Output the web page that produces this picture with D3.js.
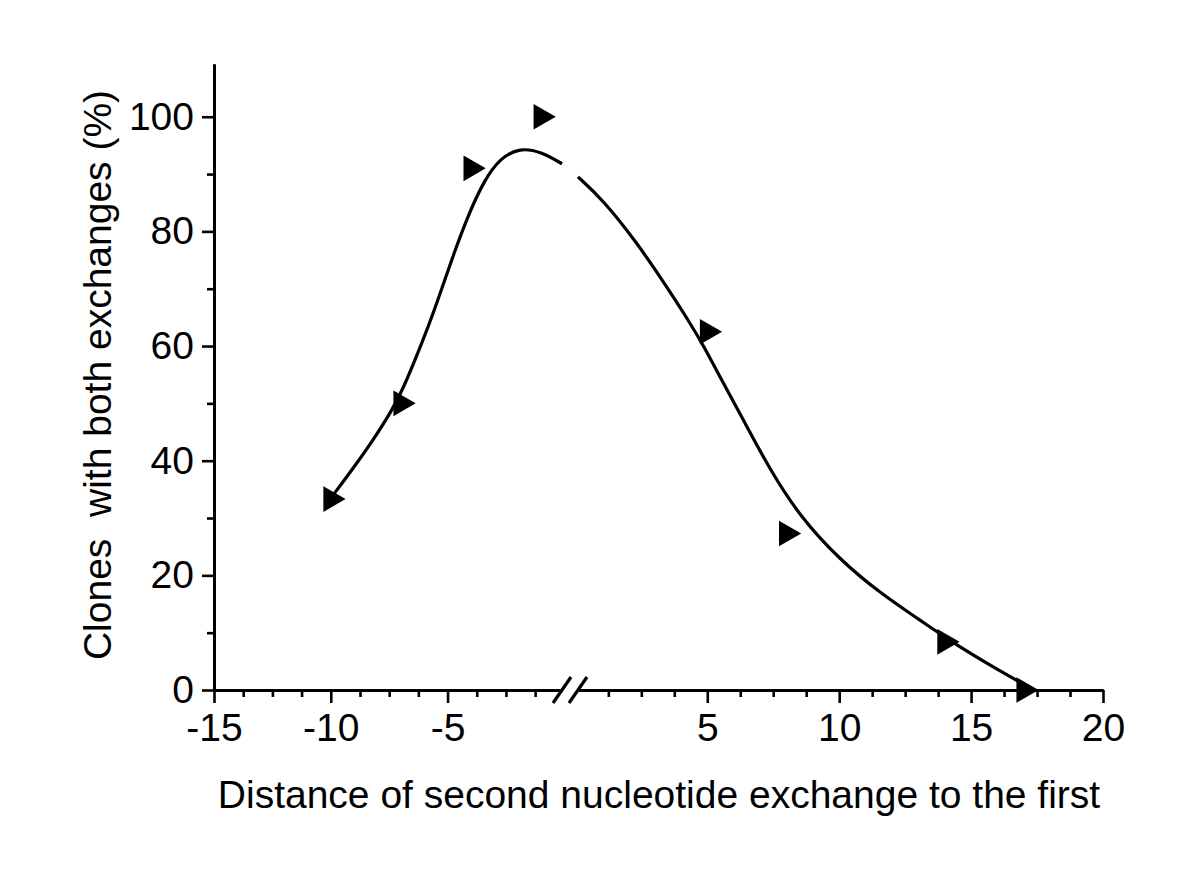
<!DOCTYPE html>
<html>
<head>
<meta charset="utf-8">
<script src="https://cdn.jsdelivr.net/npm/d3@7"></script>
<style>
  body { margin: 0; background: #fff; }
  text { font-family: "Liberation Sans", Arial, sans-serif; fill: #000; }
</style>
</head>
<body>
<svg id="chart" width="1200" height="883"></svg>
<script>
// measured points
const pointX = [-10, -7, -4, -1, 5, 8, 14, 17];
const pointY = [33.3, 50, 91, 100, 62.5, 27.3, 8.4, 0];

// fitted curve (left and right of the axis break)
const fitLeftX = [-9.9, -9.0, -8.15, -7.35, -6.9, -6.3, -5.75, -5.3, -4.75, -4.15, -3.45, -2.75, -1.9, -1.0, -0.1];
const fitLeftY = [34.0, 38.9, 43.8, 49.0, 52.6, 58.5, 64.2, 69.4, 75.9, 82.5, 88.8, 92.8, 94.6, 93.9, 91.8];
const fitRightX = [0.1, 1.05, 2.34, 3.47, 4.35, 4.84, 5.6, 6.51, 7.38, 8.52, 10.03, 11.55, 13.06, 14.32, 15.83, 17.3];
const fitRightY = [89.5, 85.5, 78.0, 70.3, 64.0, 60.2, 53.6, 45.9, 38.4, 30.2, 22.7, 16.9, 12.2, 8.2, 4.0, 0.2];

// axis break and ticks
const breakLo = -0.1, breakHi = 0.1;
const xMajorLeft = [-15, -10, -5];
const xMinorLeft = [-13.75, -12.5, -11.25, -8.75, -7.5, -6.25, -3.75, -2.5, -1.25];
const xMajorRight = [5, 10, 15, 20];
const xMinorRight = [1.25, 2.5, 3.75, 6.25, 7.5, 8.75, 11.25, 12.5, 13.75, 16.25, 17.5, 18.75];
const yMajor = [0, 20, 40, 60, 80, 100];
const yMinor = [10, 30, 50, 70, 90];

const xTitle = 'Distance of second nucleotide exchange to the first';
const yTitle = 'Clones\u00a0 with both exchanges (%)';

const svg = d3.select('#chart');
const plotLeft = 214, plotRight = 1103, plotTop = 64, plotBottom = 690, gap = 16;
const fontSize = 39;

const xLeft = d3.scaleLinear().domain([-15, breakLo]).range([plotLeft, 562]);
const xRight = d3.scaleLinear().domain([breakHi, 20]).range([562 + gap, plotRight]);
const xPos = v => (v <= breakLo ? xLeft(v) : xRight(v));
const y = d3.scaleLinear().domain([0, 109.2]).range([plotBottom, plotTop]);

function styleAxis(g) {
  g.select('.domain').attr('stroke', '#000').attr('stroke-width', 3);
  g.selectAll('.tick line').attr('stroke', '#000').attr('stroke-width', 2.6);
  g.selectAll('.tick text').style('font-size', fontSize + 'px').attr('fill', '#000');
}

// x axis, two pieces
[[xLeft, xMajorLeft, xMinorLeft], [xRight, xMajorRight, xMinorRight]].forEach(([sc, major, minor]) => {
  svg.append('g')
    .attr('transform', `translate(0,${plotBottom})`)
    .call(d3.axisBottom(sc).tickValues(minor).tickSize(7).tickSizeOuter(0).tickFormat(''))
    .call(styleAxis);
  svg.append('g')
    .attr('transform', `translate(0,${plotBottom})`)
    .call(d3.axisBottom(sc).tickValues(major).tickSize(13).tickSizeOuter(0).tickPadding(10)
      .tickFormat(d => String(d)))
    .call(styleAxis);
});

// break marks
[562, 562 + gap].forEach(cx => {
  svg.append('line')
    .attr('x1', cx - 9).attr('y1', plotBottom + 13)
    .attr('x2', cx + 9).attr('y2', plotBottom - 13)
    .attr('stroke', '#000').attr('stroke-width', 3.2);
});

// y axis
svg.append('g')
  .attr('transform', `translate(${plotLeft},0)`)
  .call(d3.axisLeft(y).tickValues(yMinor).tickSize(7).tickSizeOuter(0).tickFormat(''))
  .call(styleAxis);
svg.append('g')
  .attr('transform', `translate(${plotLeft},0)`)
  .call(d3.axisLeft(y).tickValues(yMajor).tickSize(12).tickSizeOuter(0).tickPadding(8))
  .call(styleAxis);

// fitted curve
const line = d3.line()
  .x(d => xPos(d[0]))
  .y(d => y(d[1]))
  .curve(d3.curveBasis);

[[fitLeftX, fitLeftY], [fitRightX, fitRightY]].forEach(([xs, ys]) => {
  svg.append('path')
    .datum(xs.map((v, i) => [v, ys[i]]))
    .attr('d', line)
    .attr('fill', 'none')
    .attr('stroke', '#000')
    .attr('stroke-width', 3.2);
});

// markers: right-pointing triangles
const tri = d3.symbol().type(d3.symbolTriangle).size(285);
svg.append('g').selectAll('path')
  .data(pointX.map((v, i) => [v, pointY[i]]))
  .join('path')
  .attr('d', tri)
  .attr('transform', d => `translate(${xPos(d[0])},${y(d[1])}) rotate(90)`)
  .attr('fill', '#000');

// titles
svg.append('text')
  .attr('x', (218 + 1100) / 2)
  .attr('y', 808)
  .attr('text-anchor', 'middle')
  .style('font-size', fontSize + 'px')
  .text(xTitle);

svg.append('text')
  .attr('transform', `translate(111,${(plotTop + plotBottom) / 2 - 2}) rotate(-90)`)
  .attr('text-anchor', 'middle')
  .style('font-size', fontSize + 'px')
  .text(yTitle);
</script>
</body>
</html>
